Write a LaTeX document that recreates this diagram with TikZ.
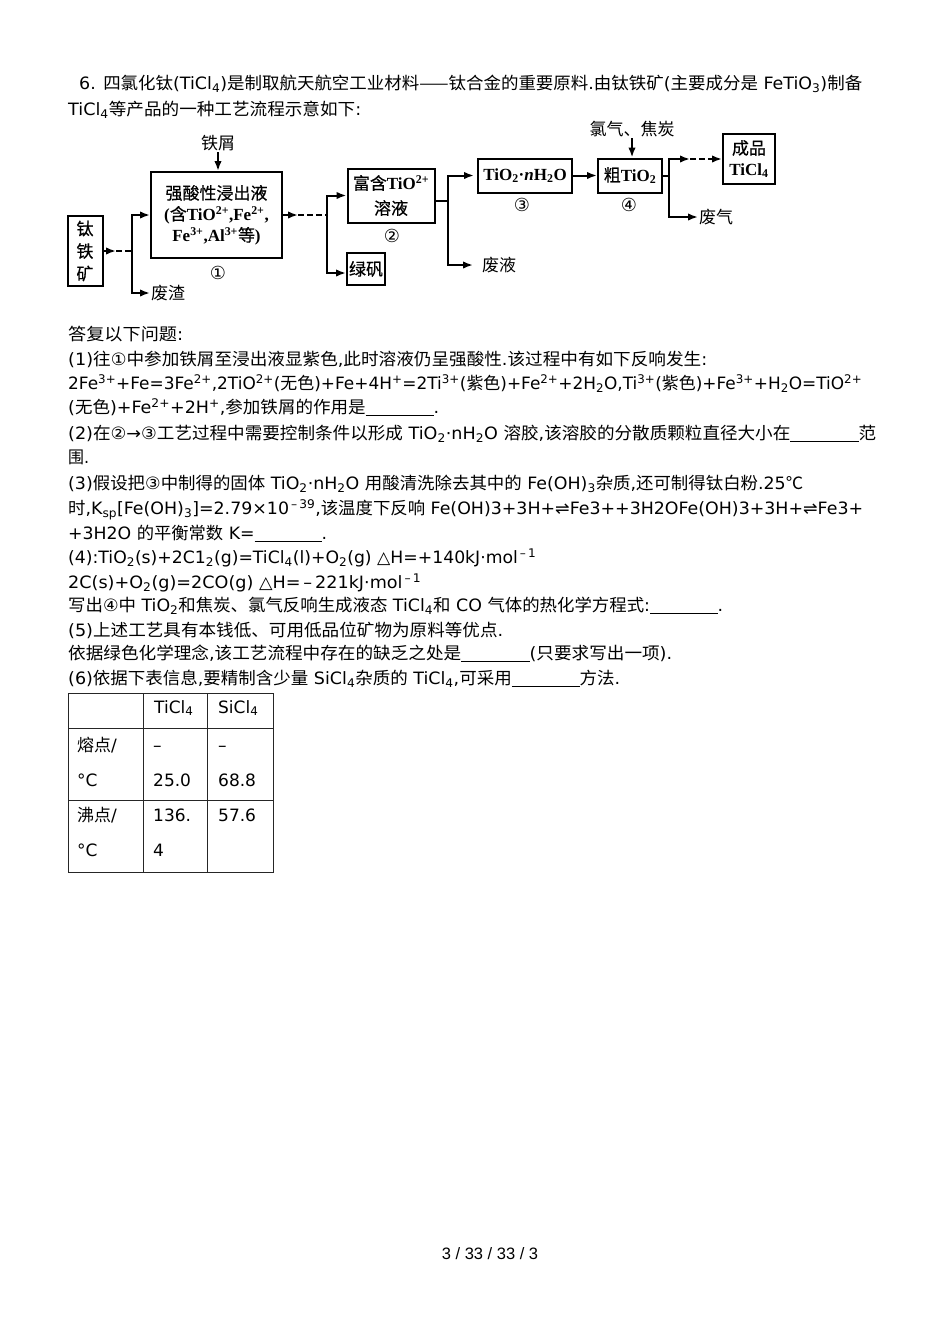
\documentclass[tikz,border=0pt]{standalone}
\usepackage{fontspec}
\usepackage{graphicx}
\usetikzlibrary{arrows.meta}
\setmainfont{DejaVu Sans}
\newfontfamily\cjk{Noto Sans CJK SC}
\newfontfamily\cjkb{Noto Sans CJK SC}[FakeBold=0.5]
\newfontfamily\timesb{Liberation Serif}
\newfontfamily\pagefont{Liberation Sans}

% han characters pick their own font
\XeTeXinterchartokenstate=1
\newXeTeXintercharclass\hanclass
\count255="4E00
\loop\ifnum\count255<"A000
  \XeTeXcharclass\count255=\hanclass
  \advance\count255 by 1
\repeat
\XeTeXcharclass"3001=\hanclass
\XeTeXcharclass"2014=\hanclass
\XeTeXcharclass"2103=\hanclass
\newcommand\hanfam{\cjk\mdseries}
\newcommand\latinfam{\normalfont}
\XeTeXinterchartoks 0 \hanclass = {\hanfam}
\XeTeXinterchartoks 4095 \hanclass = {\hanfam}
\XeTeXinterchartoks \hanclass 0 = {\latinfam}
\XeTeXinterchartoks \hanclass 4095 = {\latinfam}

\newcommand\bodyfont{\fontsize{17}{20}\selectfont}
\newcommand\flowfont{\renewcommand\latinfam{\timesb\bfseries}\renewcommand\hanfam{\cjkb\mdseries}\latinfam\fontsize{17}{21}\selectfont}
\newcommand\blank{\rule[-2.5pt]{66pt}{0.9pt}}
\newcommand{\qline}[5]{\node[qtext] (#1) at (#2,#3) {\resizebox{#4pt}{\height}{#5}};}

\begin{document}
\begin{tikzpicture}[x=1pt,y=-1pt]
	\tikzstyle{box}=[draw, line width=2pt, inner sep=0pt, align=center, font=\flowfont]
	\tikzstyle{lbl}=[inner sep=1pt, font={\flowfont\renewcommand\hanfam{\cjk\mdseries}}]
	\tikzstyle{num}=[inner sep=0pt, font=\fontsize{18}{20}\selectfont]
	\tikzstyle{flow}=[line width=2pt]
	\tikzstyle{arr}=[flow, -{Latex[length=10pt,width=7.5pt]}]
	\tikzstyle{dashseg}=[flow, dash pattern=on 6pt off 3pt]
	\tikzstyle{qtext}=[anchor=base west, inner sep=0pt, font=\bodyfont]
	\tikzstyle{cell}=[anchor=base west, inner sep=0pt, font=\bodyfont]
	\tikzstyle{tabline}=[line width=1pt, black!85]
	\fill [white] (0,0) rectangle (950,1344);

	\qline{head1}{79}{89.5}{783}{6. 四氯化钛(TiCl\textsubscript{4})是制取航天航空工业材料——钛合金的重要原料.由钛铁矿(主要成分是 FeTiO\textsubscript{3})制备}
	\qline{head2}{68}{115.5}{293}{TiCl\textsubscript{4}等产品的一种工艺流程示意如下:}

	% flow chart
	\node [box, minimum width=35pt, minimum height=70pt, font={\flowfont\fontsize{17}{22.5}\selectfont}] (ore) at (85,251) {钛\\铁\\矿};
	\node [box, minimum width=131pt, minimum height=86pt] (leach) at (216.5,215) {强酸性浸出液\\(含TiO\textsuperscript{2+},Fe\textsuperscript{2+},\\Fe\textsuperscript{3+},Al\textsuperscript{3+}等)};
	\node [box, minimum width=87pt, minimum height=54pt, font={\flowfont\fontsize{17}{25}\selectfont}] (rich) at (391,195.5) {富含TiO\textsuperscript{2+}\\溶液};
	\node [box, minimum width=38pt, minimum height=32pt] (green) at (366,269) {绿矾};
	\node [box, minimum width=94pt, minimum height=34pt] (hydr) at (525,175.5) {TiO\textsubscript{2}·\textit{n}H\textsubscript{2}O};
	\node [box, minimum width=64pt, minimum height=34pt] (crude) at (630,175.5) {粗TiO\textsubscript{2}};
	\node [box, minimum width=52pt, minimum height=50pt] (prod) at (749,159) {成品\\TiCl\textsubscript{4}};

	\node [lbl] (scrap) at (218,143) {铁屑};
	\node [lbl] (feed) at (632,129) {氯气、焦炭};
	\node [lbl, anchor=west] (slag) at (150,293) {废渣};
	\node [lbl, anchor=west] (waste) at (481,265) {废液};
	\node [lbl, anchor=west] (gas) at (698,217) {废气};

	\node [num] (n1) at (218,273) {①};
	\node [num] (n2) at (392,236) {②};
	\node [num] (n3) at (522,205) {③};
	\node [num] (n4) at (629,205) {④};

	\coordinate (t1) at (116,251);
	\coordinate (j1) at (132,251);
	\draw [arr] (ore.east) -- (t1);
	\draw [dashseg] (t1) -- (j1);
	\draw [arr] (j1) |- (leach.west);
	\draw [arr] (j1) |- (slag.west);
	\draw [arr] (scrap.south) -- (scrap.south |- leach.north);

	\coordinate (t2) at (298,215);
	\coordinate (j2) at (327,215);
	\draw [arr] (leach.east) -- (t2);
	\draw [dashseg] (t2) -- (j2);
	\draw [arr] (j2) |- (rich.west);
	\draw [arr] (j2) |- ([yshift=-4pt]green.west);

	\coordinate (j3) at (448,201);
	\draw [flow] (rich.east |- j3) -- (j3);
	\draw [arr, shorten >=3pt] (j3) |- (hydr.west);
	\draw [arr, shorten >=8pt] (j3) |- (waste.west);
	\draw [arr] (hydr.east) -- (crude.west);
	\draw [arr] (feed.south) -- (feed.south |- crude.north);

	\coordinate (j4) at (669,175.5);
	\coordinate (t4) at (690,159);
	\draw [flow] (crude.east) -- (j4);
	\draw [arr] (j4) |- (t4);
	\draw [dashseg, -{Latex[length=10pt,width=7.5pt]}] (t4) -- (prod.west);
	\draw [arr] (j4) |- (gas.west);

	% questions
	\qline{q0}{68}{340.5}{115}{答复以下问题:}
	\qline{q1a}{68}{365.5}{639}{(1)往①中参加铁屑至浸出液显紫色,此时溶液仍呈强酸性.该过程中有如下反响发生:}
	\qline{q1b}{68}{389.5}{794}{2Fe\textsuperscript{3+}+Fe=3Fe\textsuperscript{2+},2TiO\textsuperscript{2+}(无色)+Fe+4H\textsuperscript{+}=2Ti\textsuperscript{3+}(紫色)+Fe\textsuperscript{2+}+2H\textsubscript{2}O,Ti\textsuperscript{3+}(紫色)+Fe\textsuperscript{3+}+H\textsubscript{2}O=TiO\textsuperscript{2+}}
	\qline{q1c}{68}{413.5}{371}{(无色)+Fe\textsuperscript{2+}+2H\textsuperscript{+},参加铁屑的作用是\blank.}
	\qline{q2a}{68}{439.5}{808}{(2)在②→③工艺过程中需要控制条件以形成 TiO\textsubscript{2}·nH\textsubscript{2}O 溶胶,该溶胶的分散质颗粒直径大小在\blank 范}
	\qline{q2b}{68}{463.5}{21}{围.}
	\qline{q3a}{68}{489.5}{735}{(3)假设把③中制得的固体 TiO\textsubscript{2}·nH\textsubscript{2}O 用酸清洗除去其中的 Fe(OH)\textsubscript{3}杂质,还可制得钛白粉.25℃}
	\qline{q3b}{68}{514.5}{795}{时,K\textsubscript{sp}[Fe(OH)\textsubscript{3}]=2.79×10\textsuperscript{\,–\,39},该温度下反响 Fe(OH)3+3H+⇌Fe3++3H2OFe(OH)3+3H+⇌Fe3+}
	\qline{q3c}{68}{539.5}{259}{+3H2O 的平衡常数 K=\blank.}
	\qline{q4a}{68}{563.5}{468}{(4):TiO\textsubscript{2}(s)+2C1\textsubscript{2}(g)=TiCl\textsubscript{4}(l)+O\textsubscript{2}(g) △H=+140kJ·mol\textsuperscript{\,–\,1}}
	\qline{q4b}{68}{588.5}{353}{2C(s)+O\textsubscript{2}(g)=2CO(g) △H=\,–\,221kJ·mol\textsuperscript{\,–\,1}}
	\qline{q4c}{68}{611.5}{655}{写出④中 TiO\textsubscript{2}和焦炭、氯气反响生成液态 TiCl\textsubscript{4}和 CO 气体的热化学方程式:\blank.}
	\qline{q5a}{68}{636.5}{435}{(5)上述工艺具有本钱低、可用低品位矿物为原料等优点.}
	\qline{q5b}{68}{659.5}{604}{依据绿色化学理念,该工艺流程中存在的缺乏之处是\blank(只要求写出一项).}
	\qline{q6}{68}{684.5}{552}{(6)依据下表信息,要精制含少量 SiCl\textsubscript{4}杂质的 TiCl\textsubscript{4},可采用\blank 方法.}

	% table
	\draw [tabline] (68,693) rectangle (273,872);
	\draw [tabline] (143,693) -- (143,872);
	\draw [tabline] (207,693) -- (207,872);
	\draw [tabline] (68,728) -- (273,728);
	\draw [tabline] (68,800) -- (273,800);
	\node [cell] (hti) at (154,713) {TiCl\textsubscript{4}};
	\node [cell] (hsi) at (218,713) {SiCl\textsubscript{4}};
	\node [cell] (mp1) at (77,751) {熔点/};
	\node [cell] (mp2) at (77,786) {°C};
	\node [cell] (mti1) at (153,751) {–};
	\node [cell] (mti2) at (153,786) {25.0};
	\node [cell] (msi1) at (218,751) {–};
	\node [cell] (msi2) at (218,786) {68.8};
	\node [cell] (bp1) at (77,821) {沸点/};
	\node [cell] (bp2) at (77,856) {°C};
	\node [cell] (bti1) at (153,821) {136.};
	\node [cell] (bti2) at (153,856) {4};
	\node [cell] (bsi) at (218,821) {57.6};

	\node [anchor=base, inner sep=0pt, font=\pagefont\fontsize{16.5}{18}\selectfont] (page) at (490,1259) {3 / 33 / 33 / 3};
\end{tikzpicture}
\end{document}
